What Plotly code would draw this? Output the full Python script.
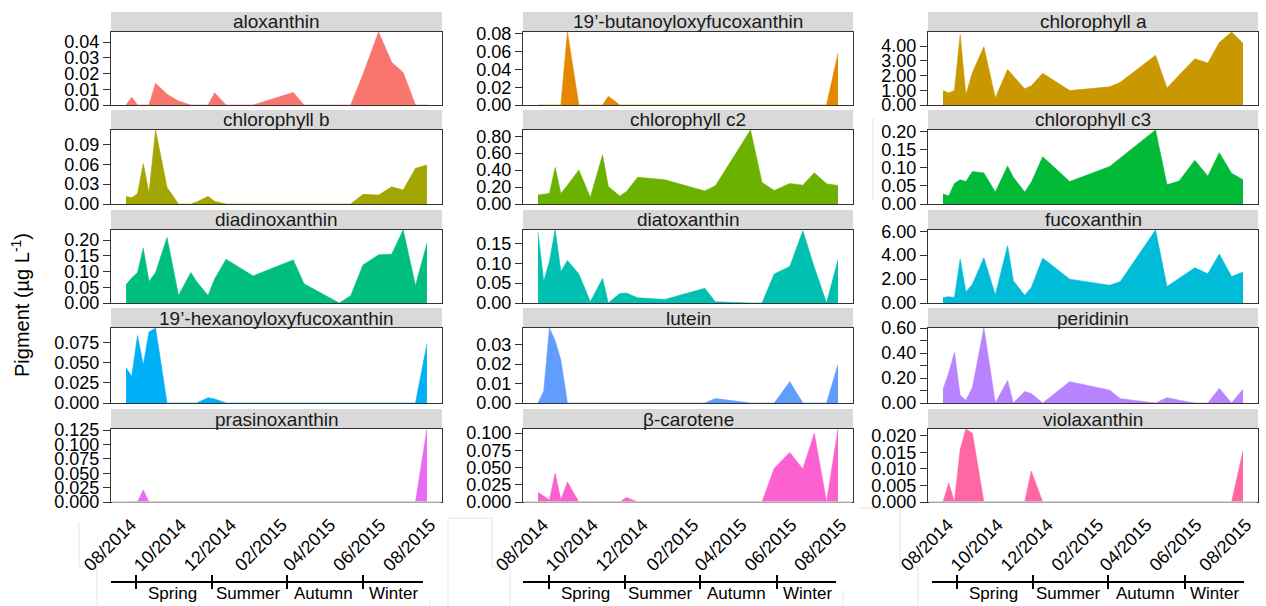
import plotly.graph_objects as go
import pandas as pd

# ---------------- data ----------------
sample_dates = ["2014-07-26", "2014-08-02", "2014-08-09", "2014-08-16", "2014-08-23",
                "2014-08-31", "2014-09-14", "2014-09-28", "2014-10-13", "2014-10-20",
                "2014-11-03", "2014-11-11", "2014-11-25", "2014-12-28", "2015-02-15",
                "2015-02-28", "2015-04-12", "2015-04-26", "2015-05-11", "2015-05-30",
                "2015-06-15", "2015-06-29", "2015-07-14", "2015-07-28"]

aloxanthin = [0, 0.005, 0, 0, 0, 0.0138, 0.0068, 0.0025, 0, 0, 0, 0.0078,
              0, 0, 0.008, 0, 0, 0, 0.0195, 0.0464, 0.0272, 0.0206, 0, 0]
butanoyloxyfucoxanthin = [0, 0, 0, 0, 0, 0.082, 0, 0, 0, 0.0098, 0, 0,
                          0, 0, 0, 0, 0, 0, 0, 0, 0, 0, 0, 0.058]
chlorophyll_a = [0.98, 0.82, 0.98, 4.77, 0.70, 2.20, 3.95, 0.47, 2.40, 1.95, 1.10, 1.30,
                 2.15, 0.98, 1.23, 1.55, 3.37, 1.16, 2.05, 3.14, 2.84, 4.23, 4.95, 4.19]
chlorophyll_b = [0.0115, 0.0094, 0.0156, 0.061, 0.0167, 0.112, 0.025, 0, 0, 0.003, 0.0115, 0.004,
                 0, 0, 0, 0, 0, 0, 0.0146, 0.0135, 0.026, 0.0213, 0.054, 0.059]
chlorophyll_c2 = [0.105, 0.117, 0.125, 0.43, 0.125, 0.22, 0.40, 0.077, 0.58, 0.206, 0.093, 0.145,
                  0.315, 0.287, 0.154, 0.214, 0.873, 0.255, 0.158, 0.242, 0.222, 0.368, 0.238, 0.218]
chlorophyll_c3 = [0.028, 0.022, 0.057, 0.067, 0.062, 0.09, 0.086, 0.033, 0.105, 0.074, 0.033, 0.06,
                  0.131, 0.062, 0.104, 0.128, 0.205, 0.053, 0.064, 0.121, 0.077, 0.142, 0.085, 0.067]
diadinoxanthin = [0.058, 0.08, 0.097, 0.174, 0.068, 0.097, 0.208, 0.024, 0.097, 0.068, 0.024, 0.076,
                  0.139, 0.086, 0.137, 0.061, 0, 0.023, 0.121, 0.153, 0.155, 0.232, 0.055, 0.19]
diatoxanthin = [0.178, 0.054, 0.105, 0.184, 0.079, 0.107, 0.073, 0.003, 0.062, 0, 0.024, 0.025,
                0.013, 0.009, 0.037, 0.003, 0, 0, 0.073, 0.092, 0.182, 0.09, 0, 0.109]
fucoxanthin = [0.45, 0.53, 0.45, 3.67, 0.92, 1.57, 3.78, 0.67, 4.79, 1.85, 0.64, 1.29,
               3.75, 1.99, 1.48, 1.79, 6.10, 1.37, 2.07, 2.94, 2.44, 4.09, 2.21, 2.58]
hexanoyloxyfucoxanthin = [0.0437, 0.033, 0.0836, 0.047, 0.088, 0.093, 0, 0, 0, 0, 0.0065, 0.005,
                          0, 0, 0, 0, 0, 0, 0, 0, 0, 0, 0, 0.073]
lutein = [0, 0.006, 0.0386, 0.032, 0.022, 0, 0, 0, 0, 0, 0, 0,
          0, 0, 0, 0.0023, 0, 0, 0, 0.011, 0, 0, 0, 0.0198]
peridinin = [0.11, 0.24, 0.405, 0.062, 0.022, 0.125, 0.60, 0, 0.18, 0, 0.092, 0.076,
             0, 0.171, 0.103, 0.035, 0, 0.043, 0.022, 0, 0, 0.117, 0, 0.111]
prasinoxanthin = [0, 0, 0, 0.021, 0, 0, 0, 0, 0, 0, 0, 0,
                  0, 0, 0, 0, 0, 0, 0, 0, 0, 0, 0, 0.127]
beta_carotene = [0.014, 0.009, 0.003, 0.042, 0.003, 0.029, 0, 0, 0, 0, 0, 0.0065,
                 0, 0, 0, 0, 0, 0, 0.049, 0.072, 0.048, 0.10, 0, 0.106]
violaxanthin = [0, 0.0057, 0, 0.0158, 0.022, 0.0207, 0, 0, 0, 0, 0, 0.0093,
                0, 0, 0, 0, 0, 0, 0, 0, 0, 0, 0, 0.0154]

pigment_names = ["aloxanthin", "19’-butanoyloxyfucoxanthin", "chlorophyll a",
                 "chlorophyll b", "chlorophyll c2", "chlorophyll c3",
                 "diadinoxanthin", "diatoxanthin", "fucoxanthin",
                 "19’-hexanoyloxyfucoxanthin", "lutein", "peridinin",
                 "prasinoxanthin", "β-carotene", "violaxanthin"]
pigment_values = [aloxanthin, butanoyloxyfucoxanthin, chlorophyll_a,
                  chlorophyll_b, chlorophyll_c2, chlorophyll_c3,
                  diadinoxanthin, diatoxanthin, fucoxanthin,
                  hexanoyloxyfucoxanthin, lutein, peridinin,
                  prasinoxanthin, beta_carotene, violaxanthin]
pigment_colors = ["#F8766D", "#E58700", "#C99800", "#A3A500", "#6BB100",
                  "#00BA38", "#00BF7D", "#00C0AF", "#00BCD8", "#00B0F6",
                  "#619CFF", "#B983FF", "#E76BF3", "#FD61D1", "#FF67A4"]
y_tick_labels = [
    ["0.00", "0.01", "0.02", "0.03", "0.04"],
    ["0.00", "0.02", "0.04", "0.06", "0.08"],
    ["0.00", "1.00", "2.00", "3.00", "4.00"],
    ["0.00", "0.03", "0.06", "0.09"],
    ["0.00", "0.20", "0.40", "0.60", "0.80"],
    ["0.00", "0.05", "0.10", "0.15", "0.20"],
    ["0.00", "0.05", "0.10", "0.15", "0.20"],
    ["0.00", "0.05", "0.10", "0.15"],
    ["0.00", "2.00", "4.00", "6.00"],
    ["0.000", "0.025", "0.050", "0.075"],
    ["0.00", "0.01", "0.02", "0.03"],
    ["0.00", "0.20", "0.40", "0.60"],
    ["0.000", "0.025", "0.050", "0.075", "0.100", "0.125"],
    ["0.000", "0.025", "0.050", "0.075", "0.100"],
    ["0.000", "0.005", "0.010", "0.015", "0.020"],
]
peridinin_minor_ticks = [0.1, 0.3, 0.5]
x_tick_dates = ["2014-08-01", "2014-10-01", "2014-12-01", "2015-02-01",
                "2015-04-01", "2015-06-01", "2015-08-01"]
x_tick_labels = ["08/2014", "10/2014", "12/2014", "02/2015", "04/2015", "06/2015", "08/2015"]
season_names = ["Spring", "Summer", "Autumn", "Winter"]

# ---------------- layout geometry (pixels) ----------------
W, H = 1266, 606
FONT = "Liberation Sans, Arial, sans-serif"
col_px = [(111, 442), (523, 853), (928, 1258)]
row_px = [(32, 105), (130, 204), (230, 303), (328, 403), (429, 502)]
strip_h = 20
season_px = [
    dict(line=(111, 423), ticks=[136, 212, 287, 363], labels=[172, 248, 323, 393]),
    dict(line=(523, 836), ticks=[549, 625, 700, 777], labels=[585, 660, 736, 807]),
    dict(line=(932, 1244), ticks=[957, 1033, 1108, 1185], labels=[993, 1068, 1145, 1214]),
]
# faint frame lines of the pasted sub-images (pixel polylines)
faint_frames = [
    [(79, 522), (79, 567), (97, 567), (97, 606)],
    [(448, 606), (448, 518), (492, 518), (492, 567), (510, 567), (510, 606)],
    [(860, 508), (900, 508), (900, 567), (918, 567), (918, 606)],
    [(430, 600), (430, 606)],
    [(843, 590), (843, 606)],
    [(873, 118), (873, 200)],
]


def px_x(v):
    return v / W


def px_y(v):
    return 1 - v / H


dates = pd.to_datetime(sample_dates)
span = dates.max() - dates.min()
x_lo = (dates.min() - 0.05 * span).strftime("%Y-%m-%d %H:%M")
x_hi = (dates.max() + 0.05 * span).strftime("%Y-%m-%d %H:%M")

fig = go.Figure()
shapes = []
annotations = []
layout = {}
line_col = "#333333"

for pts in faint_frames:
    for (ax, ay), (bx, by) in zip(pts[:-1], pts[1:]):
        shapes.append(dict(type="line", xref="paper", yref="paper",
                           x0=px_x(ax), x1=px_x(bx), y0=px_y(ay), y1=px_y(by),
                           line=dict(color="#E4E4E4", width=1), layer="below"))

for i, (name, vals, col) in enumerate(zip(pigment_names, pigment_values, pigment_colors)):
    r, c = divmod(i, 3)
    n = i + 1
    xa = "x" if n == 1 else f"x{n}"
    ya = "y" if n == 1 else f"y{n}"
    fig.add_trace(go.Scatter(x=sample_dates, y=vals, mode="lines",
                             line=dict(width=0.6, color=col), fill="tozeroy",
                             fillcolor=col, xaxis=xa, yaxis=ya,
                             hoverinfo="skip", showlegend=False))
    x0, x1 = col_px[c]
    y0, y1 = row_px[r]
    xaxis = dict(domain=[px_x(x0), px_x(x1)], anchor=ya, type="date",
                 range=[x_lo, x_hi], showgrid=False, zeroline=False, automargin=False,
                 showline=True, mirror=True, linecolor=line_col, linewidth=1.3,
                 ticks="", showticklabels=False)
    if r == 4:
        xaxis.update(showticklabels=True, tickmode="array", tickvals=x_tick_dates,
                     ticktext=x_tick_labels, tickangle=-45, ticklabelstandoff=4,
                     tickfont=dict(family=FONT, size=18, color="black"))
        # bottom edge of the lowest panels is drawn light in the reference
        shapes.append(dict(type="line", xref="paper", yref="paper",
                           x0=px_x(x0 + 1), x1=px_x(x1 - 1), y0=px_y(y1), y1=px_y(y1),
                           line=dict(color="#CFCFCF", width=1.6), layer="above"))
    ticks = y_tick_labels[i]
    yaxis = dict(domain=[px_y(y1), px_y(y0)], anchor=xa, range=[0, max(vals)],
                 showgrid=False, zeroline=False, showline=True, mirror=True,
                 automargin=False,
                 linecolor=line_col, linewidth=1.3, ticks="outside", ticklen=7,
                 tickwidth=1.3, tickcolor=line_col, tickmode="array",
                 tickvals=[float(t) for t in ticks], ticktext=ticks,
                 tickfont=dict(family=FONT, size=18, color="black"))
    if name == "peridinin":
        yaxis["minor"] = dict(tickmode="array", tickvals=peridinin_minor_ticks,
                              ticks="outside", ticklen=7, tickwidth=1.3, tickcolor=line_col)
    layout["xaxis" if n == 1 else f"xaxis{n}"] = xaxis
    layout["yaxis" if n == 1 else f"yaxis{n}"] = yaxis
    shapes.append(dict(type="rect", xref="paper", yref="paper",
                       x0=px_x(x0), x1=px_x(x1), y0=px_y(y0), y1=px_y(y0 - strip_h),
                       fillcolor="#D9D9D9", line=dict(width=0), layer="below"))
    annotations.append(dict(xref="paper", yref="paper", x=px_x((x0 + x1) / 2),
                            y=px_y(y0 - strip_h / 2), text=name, showarrow=False,
                            xanchor="center", yanchor="middle",
                            font=dict(family=FONT, size=19, color="#1A1A1A")))

for sp in season_px:
    ly = 582
    shapes.append(dict(type="line", xref="paper", yref="paper",
                       x0=px_x(sp["line"][0]), x1=px_x(sp["line"][1]),
                       y0=px_y(ly), y1=px_y(ly), line=dict(color="black", width=2)))
    for tx in sp["ticks"]:
        shapes.append(dict(type="line", xref="paper", yref="paper",
                           x0=px_x(tx), x1=px_x(tx), y0=px_y(575), y1=px_y(589),
                           line=dict(color="black", width=2)))
    for lx, s in zip(sp["labels"], season_names):
        annotations.append(dict(xref="paper", yref="paper", x=px_x(lx), y=px_y(593),
                                text=s, showarrow=False, xanchor="center", yanchor="middle",
                                font=dict(family=FONT, size=17, color="black")))

annotations.append(dict(xref="paper", yref="paper", x=px_x(20), y=px_y(305),
                        text="Pigment (µg L<sup>-1</sup>)", textangle=-90, showarrow=False,
                        xanchor="center", yanchor="middle",
                        font=dict(family=FONT, size=20, color="black")))

fig.update_layout(width=W, height=H, autosize=False,
                  margin=dict(l=0, r=0, t=0, b=0, pad=0, autoexpand=False),
                  paper_bgcolor="white", plot_bgcolor="white",
                  shapes=shapes, annotations=annotations, **layout)

fig.write_html("out.html")
